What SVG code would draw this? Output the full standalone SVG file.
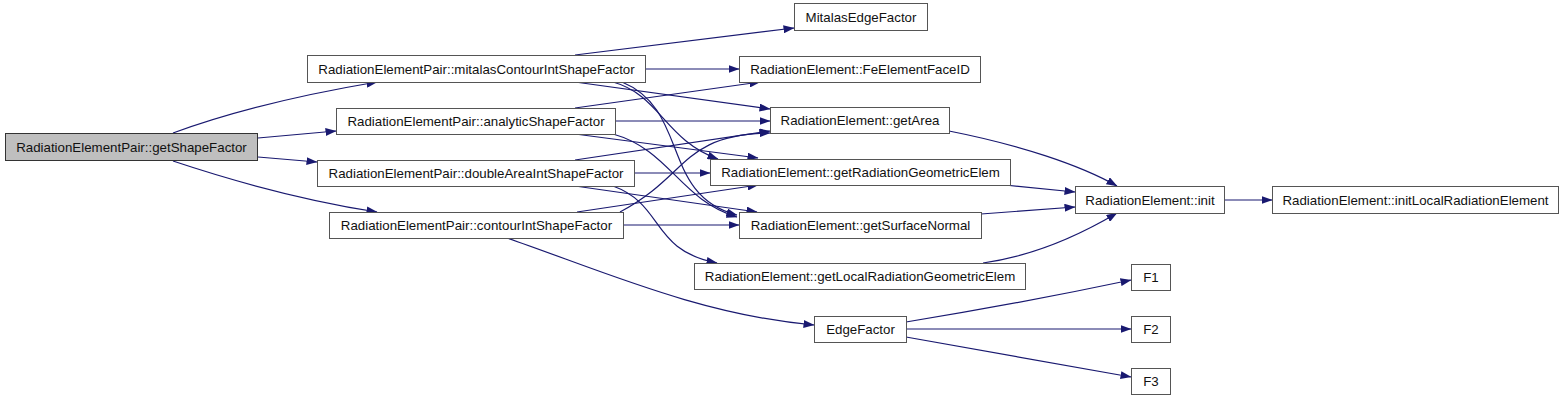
<svg xmlns="http://www.w3.org/2000/svg" width="1568" height="401" viewBox="0 0 1568 401">
<defs>
<style>
.n rect{fill:#fff;stroke:#555;stroke-width:1}
.n.root rect{fill:#bfbfbf;stroke:#333}
.n text{font-family:"Liberation Sans",Arial,sans-serif;font-size:13.3px;fill:#111;text-anchor:middle;dominant-baseline:central}
#edges path{fill:none;stroke:#191970;stroke-width:1.2;marker-end:url(#ah)}
</style>
<marker id="ah" markerUnits="userSpaceOnUse" markerWidth="11" markerHeight="8" refX="10.5" refY="4" orient="auto">
<path d="M0,0 L11,4 L0,8 z" fill="#191970"/>
</marker>
</defs>
<rect width="1568" height="401" fill="#fff"/>
<g id="edges">
<path d="M173,133 C230,112 300,95 377,82"/>
<path d="M258,138 L336,131"/>
<path d="M258,157 L317,162"/>
<path d="M173,161 C230,180 300,200 377,212"/>
<path d="M575,55 L794,28"/>
<path d="M645,69 L739,69"/>
<path d="M575,82 L770,109"/>
<path d="M613,82 C660,95 665,140 718,159"/>
<path d="M622,82 C690,110 660,195 737,215"/>
<path d="M575,108 L760,82"/>
<path d="M615,121 L770,121"/>
<path d="M575,134 L758,158"/>
<path d="M613,134 C670,150 680,200 737,217"/>
<path d="M575,160 L770,131"/>
<path d="M634,173 L710,173"/>
<path d="M575,186 L757,212"/>
<path d="M613,186 C665,205 650,250 717,263"/>
<path d="M577,212 L758,185"/>
<path d="M620,212 C690,175 680,135 770,133"/>
<path d="M623,225 L739,225"/>
<path d="M507,238 C600,270 700,315 814,325"/>
<path d="M949,131 C1020,145 1080,165 1117,186"/>
<path d="M1005,185 L1075,192"/>
<path d="M981,214 L1075,207"/>
<path d="M983,263 C1040,255 1085,232 1117,213"/>
<path d="M1224,200 L1272,200"/>
<path d="M906,322 C980,310 1060,295 1131,280"/>
<path d="M906,329 L1131,329"/>
<path d="M906,337 L1131,377"/>
</g>
<g id="n_getShapeFactor" class="n root"><rect x="5.5" y="133.5" width="252" height="27"/><text x="131.5" y="147">RadiationElementPair::getShapeFactor</text></g>
<g id="n_mitalas" class="n"><rect x="307.5" y="55.5" width="338" height="27"/><text x="476.5" y="69">RadiationElementPair::mitalasContourIntShapeFactor</text></g>
<g id="n_analytic" class="n"><rect x="336.5" y="108.5" width="279" height="26"/><text x="476" y="121.5">RadiationElementPair::analyticShapeFactor</text></g>
<g id="n_doubleArea" class="n"><rect x="317.5" y="160.5" width="317" height="26"/><text x="476" y="173.5">RadiationElementPair::doubleAreaIntShapeFactor</text></g>
<g id="n_contourInt" class="n"><rect x="329.5" y="212.5" width="294" height="26"/><text x="476.5" y="225.5">RadiationElementPair::contourIntShapeFactor</text></g>
<g id="n_MitalasEdgeFactor" class="n"><rect x="794.5" y="3.5" width="133" height="27"/><text x="861" y="17">MitalasEdgeFactor</text></g>
<g id="n_FeElementFaceID" class="n"><rect x="739.5" y="56.5" width="241" height="26"/><text x="860" y="69.5">RadiationElement::FeElementFaceID</text></g>
<g id="n_getArea" class="n"><rect x="770.5" y="107.5" width="179" height="26"/><text x="860" y="120.5">RadiationElement::getArea</text></g>
<g id="n_getRadiationGeometricElem" class="n"><rect x="710.5" y="159.5" width="300" height="26"/><text x="860.5" y="172.5">RadiationElement::getRadiationGeometricElem</text></g>
<g id="n_getSurfaceNormal" class="n"><rect x="739.5" y="212.5" width="242" height="26"/><text x="860.5" y="225.5">RadiationElement::getSurfaceNormal</text></g>
<g id="n_getLocalRadiationGeometricElem" class="n"><rect x="694.5" y="263.5" width="331" height="26"/><text x="860" y="276.5">RadiationElement::getLocalRadiationGeometricElem</text></g>
<g id="n_init" class="n"><rect x="1075.5" y="186.5" width="149" height="27"/><text x="1150" y="200">RadiationElement::init</text></g>
<g id="n_initLocalRadiationElement" class="n"><rect x="1272.5" y="186.5" width="286" height="27"/><text x="1415.5" y="200">RadiationElement::initLocalRadiationElement</text></g>
<g id="n_EdgeFactor" class="n"><rect x="814.5" y="316.5" width="92" height="26"/><text x="860.5" y="329.5">EdgeFactor</text></g>
<g id="n_F1" class="n"><rect x="1131.5" y="264.5" width="39" height="26"/><text x="1151" y="277.5">F1</text></g>
<g id="n_F2" class="n"><rect x="1131.5" y="316.5" width="39" height="26"/><text x="1151" y="329.5">F2</text></g>
<g id="n_F3" class="n"><rect x="1131.5" y="368.5" width="39" height="26"/><text x="1151" y="381.5">F3</text></g>
</svg>
